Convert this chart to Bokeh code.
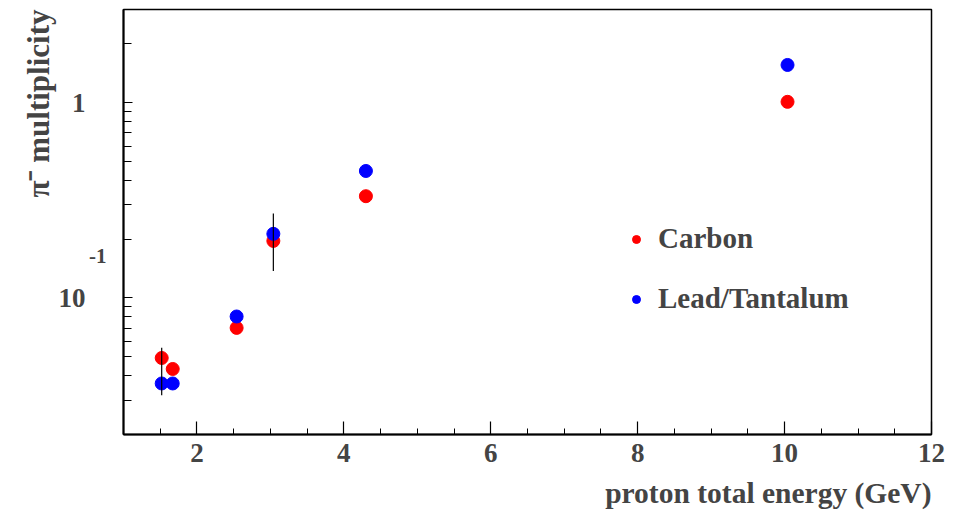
from bokeh.plotting import figure
from bokeh.models import (SingleIntervalTicker, LogTicker, FixedTicker, LogAxis, LogScale,
                          Range1d, Legend, LegendItem, Title)
from bokeh.embed import file_html
from bokeh.resources import INLINE

# ---- data ----
energy = [1.52, 1.67, 2.54, 3.04, 4.30, 10.04]
carbon = [0.0493, 0.0433, 0.0703, 0.196, 0.332, 1.01]
lead_tantalum = [0.0365, 0.0365, 0.0804, 0.213, 0.447, 1.56]
err_x = [1.52, 3.04]
err_low = [0.0318, 0.1375]
err_high = [0.0556, 0.271]
x_ticks = [2, 4, 6, 8, 10, 12]
y_major = {1: "1", 0.1: "10"}
y_exponent = {0.1: "-1"}

FONT = "Liberation Serif"
Y0, Y1 = 0.02, 3

p = figure(width=955, height=523, output_backend="svg", toolbar_location=None,
           x_range=(1, 12), y_range=(Y0, Y1), y_axis_type="log",
           min_border_left=123, min_border_right=24, min_border_top=9,
           min_border_bottom=89)
p.xgrid.visible = False
p.ygrid.visible = False
p.outline_line_color = "black"
p.outline_line_width = 1.5
p.background_fill_color = "white"
p.border_fill_color = "white"

r_c = p.scatter(energy, carbon, size=13, color="red")
r_l = p.scatter(energy, lead_tantalum, size=13, color="blue")
p.segment(err_x, err_low, err_x, err_high, line_color="black", line_width=1.2)

# x axis
xa = p.xaxis[0]
xa.ticker = SingleIntervalTicker(interval=2, num_minor_ticks=4)
xa.major_tick_in = 13
xa.major_tick_out = 0
xa.minor_tick_in = 6
xa.minor_tick_out = 0
xa.axis_line_width = 2
xa.major_tick_line_width = 1.2
xa.minor_tick_line_width = 1
xa.major_label_text_font = FONT
xa.major_label_text_font_style = "bold"
xa.major_label_text_font_size = "27px"
xa.major_label_standoff = 9

# y axis
ya = p.yaxis[0]
ya.ticker = LogTicker(num_minor_ticks=10, desired_num_ticks=2)
ya.major_label_overrides = y_major
ya.major_tick_in = 9
ya.major_tick_out = 0
ya.minor_tick_in = 8
ya.minor_tick_out = 0
ya.axis_line_width = 2
ya.major_label_text_font = FONT
ya.major_label_text_font_style = "bold"
ya.major_label_text_font_size = "27px"
ya.major_label_standoff = 38

# exponent "-1" of the 10^-1 label: an extra, shifted axis showing only that text
shift = 10 ** 0.215
p.extra_y_ranges = {"exp": Range1d(Y0 / shift, Y1 / shift)}
p.extra_y_scales = {"exp": LogScale()}
ea = LogAxis(y_range_name="exp", ticker=FixedTicker(ticks=list(y_exponent.keys())),
             major_label_overrides=y_exponent,
             axis_line_color=None, major_tick_line_color=None, minor_tick_line_color=None,
             major_tick_in=0, major_tick_out=0, minor_tick_in=0, minor_tick_out=0,
             major_label_standoff=-51,
             major_label_text_font=FONT, major_label_text_font_style="bold",
             major_label_text_font_size="21px")
p.add_layout(ea, "left")

p.add_layout(Title(text="proton total energy (GeV)", align="right",
                   text_font=FONT, text_font_style="bold", text_font_size="29.5px",
                   standoff=20, offset=0), "below")
p.add_layout(Title(text="π⁻ multiplicity", align="right",
                   text_font=FONT, text_font_style="bold", text_font_size="31px",
                   standoff=0, offset=0), "left")

legend = Legend(items=[LegendItem(label="Carbon", renderers=[r_c]),
                       LegendItem(label="Lead/Tantalum", renderers=[r_l])],
                location=(503, 119), padding=0, margin=0, spacing=27,
                glyph_width=20, glyph_height=30, label_height=30,
                label_standoff=12, border_line_alpha=0, background_fill_alpha=0,
                label_text_font=FONT, label_text_font_style="bold",
                label_text_font_size="29px")
p.add_layout(legend)

open("out.html", "w").write(file_html(p, INLINE))
